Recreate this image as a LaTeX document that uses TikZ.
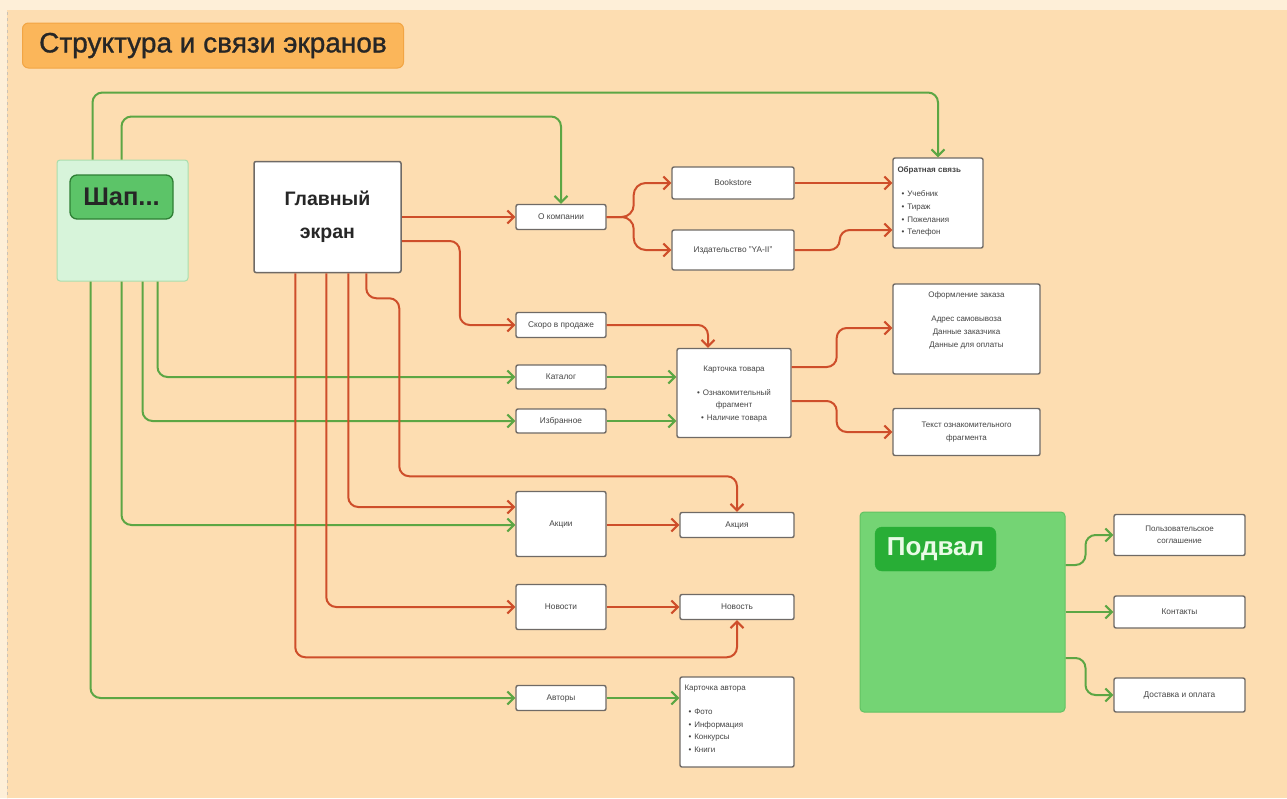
\documentclass[tikz,border=0pt]{standalone}
\usepackage{fontspec}
\setmainfont{Liberation Sans}
\newfontfamily\titlefont[FakeBold=1]{Liberation Sans}
\usetikzlibrary{arrows.meta}
\definecolor{bg}{HTML}{FDDDB1}
\definecolor{bglight}{HTML}{FEEFD8}
\definecolor{titlefill}{HTML}{FBB65A}
\definecolor{titledraw}{HTML}{F2A544}
\definecolor{shapfill}{HTML}{D7F4DA}
\definecolor{shapdraw}{HTML}{A9DEAD}
\definecolor{shapin}{HTML}{5CC468}
\definecolor{shapindraw}{HTML}{2F7F35}
\definecolor{footfill}{HTML}{74D474}
\definecolor{footdraw}{HTML}{62C263}
\definecolor{footin}{HTML}{28AE36}
\definecolor{foottext}{HTML}{E9FBE6}
\definecolor{boxdraw}{HTML}{6F6A66}
\definecolor{txt}{HTML}{444444}
\definecolor{redl}{HTML}{CE4E2A}
\definecolor{greenl}{HTML}{5CA644}
\tikzset{
  box/.style={draw=boxdraw, fill=white, line width=1.4pt, rounded corners=2pt,
    inner sep=2pt, font=\fontsize{8.3}{10}\selectfont, text=txt, align=center},
  txtin/.style={inner sep=0pt, font=\fontsize{8}{12.6}\selectfont, text=txt},
  rl/.style={draw=redl, line width=2pt, rounded corners=10pt,
    -{Straight Barb[length=6.5pt,width=13pt]}},
  gl/.style={draw=greenl, line width=2pt, rounded corners=10pt,
    -{Straight Barb[length=6.5pt,width=13pt]}}
}
\begin{document}
\begin{tikzpicture}[x=1pt,y=-1pt]
\useasboundingbox (0,0) rectangle (1287,798);
\fill[bglight] (0,0) rectangle (1287,798);
\fill[bg] (7,10) rectangle (1287,798);
\draw[draw=bglight!60!gray, dashed, line width=0.6pt] (7,12) -- (7,798);

% title
\node[draw=titledraw, fill=titlefill, line width=1pt, rounded corners=6pt,
  minimum width=381pt, minimum height=45pt, inner sep=0pt,
  font=\titlefont\fontsize{28}{30}\selectfont, text=black!85] (title) at (213,45.5)
  {Структура и связи экранов};

% header group
\node[draw=shapdraw, fill=shapfill, line width=1pt, rounded corners=3pt,
  minimum width=131pt, minimum height=121pt] (shap) at (122.5,220.5) {};
\node[draw=shapindraw, fill=shapin, line width=1.3pt, rounded corners=7pt,
  minimum width=103pt, minimum height=44pt, inner sep=0pt,
  font=\fontsize{25.5}{27}\bfseries, text=black!85] (shapin) at (121.5,197) {Шап...};

% main
\node[draw=boxdraw, fill=white, line width=1.5pt, rounded corners=2pt,
  minimum width=147pt, minimum height=111pt, align=center,
  font=\fontsize{19.5}{33}\bfseries, text=black!85] (main) at (327.5,217) {Главный\\экран};

% boxes
\node[box, minimum width=90pt, minimum height=25pt] (okomp) at (561,217) {О компании};
\node[box, minimum width=122pt, minimum height=32pt] (books) at (733,183) {Bookstore};
\node[box, minimum width=122pt, minimum height=40pt] (izd) at (733,250) {Издательство "YA-II"};
\node[box, minimum width=90pt, minimum height=90pt] (feedback) at (938,203) {};
\node[txtin, anchor=north west, align=left] (fbtext) at ([xshift=5pt,yshift=-9pt]feedback.north west)
  {\textbf{Обратная связь}\\[12pt]
   \hspace{4pt}•\hspace{3pt}Учебник\\
   \hspace{4pt}•\hspace{3pt}Тираж\\
   \hspace{4pt}•\hspace{3pt}Пожелания\\
   \hspace{4pt}•\hspace{3pt}Телефон};

\node[box, minimum width=90pt, minimum height=25pt] (soon) at (561,325) {Скоро в продаже};
\node[box, minimum width=90pt, minimum height=24pt] (catalog) at (561,377) {Каталог};
\node[box, minimum width=90pt, minimum height=24pt] (fav) at (561,421) {Избранное};
\node[box, minimum width=114pt, minimum height=89pt] (card) at (734,393) {};
\node[txtin, align=center] (cardtext) at (734,394)
  {Карточка товара\\[11pt]
   •\hspace{3pt}Ознакомительный\\
   фрагмент\\
   •\hspace{3pt}Наличие товара};
\node[box, minimum width=147pt, minimum height=90pt] (order) at (966.5,329) {};
\node[txtin, align=center, anchor=north] (ordertext) at ([yshift=-8pt]order.north)
  {Оформление заказа\\[12pt]
   Адрес самовывоза\\
   Данные заказчика\\
   Данные для оплаты};
\node[box, minimum width=147pt, minimum height=47pt, font=\fontsize{8}{12.5}\selectfont] (frag) at (966.5,432)
  {Текст ознакомительного\\фрагмента};

\node[box, minimum width=90pt, minimum height=65pt] (promos) at (561,524) {Акции};
\node[box, minimum width=114pt, minimum height=25pt] (promo) at (737,525) {Акция};
\node[box, minimum width=90pt, minimum height=45pt] (newsl) at (561,607) {Новости};
\node[box, minimum width=114pt, minimum height=25pt] (news) at (737,607) {Новость};
\node[box, minimum width=90pt, minimum height=25pt] (authors) at (561,698) {Авторы};
\node[box, minimum width=114pt, minimum height=90pt] (acard) at (737,722) {};
\node[txtin, anchor=north west, align=left] (acardtext) at ([xshift=5pt,yshift=-8pt]acard.north west)
  {Карточка автора\\[12pt]
   \hspace{4pt}•\hspace{3pt}Фото\\
   \hspace{4pt}•\hspace{3pt}Информация\\
   \hspace{4pt}•\hspace{3pt}Конкурсы\\
   \hspace{4pt}•\hspace{3pt}Книги};

% footer
\node[draw=footdraw, fill=footfill, line width=1pt, rounded corners=4pt,
  minimum width=205pt, minimum height=200pt] (footer) at (962.5,612) {};
\node[draw=footin, fill=footin, rounded corners=7pt, minimum width=121pt,
  minimum height=44pt, inner sep=0pt, font=\fontsize{26}{28}\bfseries,
  text=foottext] (footin) at (935.5,549) {Подвал};
\node[box, minimum width=131pt, minimum height=41pt, font=\fontsize{8}{12}\selectfont] (agree) at (1179.5,535) {Пользовательское\\соглашение};
\node[box, minimum width=131pt, minimum height=32pt] (contacts) at (1179.5,612) {Контакты};
\node[box, minimum width=131pt, minimum height=34pt] (delivery) at (1179.5,695) {Доставка и оплата};

% green connectors from header
\draw[gl] ([xshift=36pt]shap.north west) -- ++(0,-67) -| (feedback.north);
\draw[gl] ([xshift=65pt]shap.north west) -- ++(0,-43) -| (okomp.north);
\draw[gl] ([xshift=34pt]shap.south west) |- (authors.west);
\draw[gl] ([xshift=65pt]shap.south west) |- ([yshift=-1pt]promos.west);
\draw[gl] ([xshift=86pt]shap.south west) |- (fav.west);
\draw[gl] ([xshift=101pt]shap.south west) |- (catalog.west);

% red connectors from main
\draw[rl] ([xshift=42pt]main.south west) -- ++(0,384) -| (news.south);
\draw[rl] ([xshift=73pt]main.south west) |- (newsl.west);
\draw[rl] ([xshift=95pt]main.south west) |- ([yshift=17pt]promos.west);
\draw[rl] ([xshift=113pt]main.south west) -- ++(0,25) -- ++(33,0) -- ++(0,178) -| (promo.north);
\draw[rl] (main.east |- okomp.west) -- (okomp.west);
\draw[rl] ([yshift=-24pt]main.east) -- ++(58,0) |- (soon.west);

% about
\draw[rl, rounded corners=12pt] (okomp.east) -- ++(27,0) |- (books.west);
\draw[rl, rounded corners=12pt] (okomp.east) -- ++(27,0) |- (izd.west);
\draw[rl] (books.east) -- (feedback.west |- books.east);
\draw[rl] (izd.east) -- ++(45,0) |- ([yshift=-27pt]feedback.west);

% product card
\draw[rl] (soon.east) -| ([xshift=-26pt]card.north);
\draw[gl] (catalog.east) -- (card.west |- catalog.east);
\draw[gl] (fav.east) -- (card.west |- fav.east);
\draw[rl] ([yshift=26pt]card.east) -- ++(45,0) |- ([yshift=1pt]order.west);
\draw[rl] ([yshift=-8pt]card.east) -- ++(45,0) |- (frag.west);

% rows
\draw[rl] (promos.east |- promo.west) -- (promo.west);
\draw[rl] (newsl.east) -- (news.west);
\draw[gl] (authors.east) -- (acard.west |- authors.east);

% footer connectors
\draw[gl] ([yshift=47pt]footer.east) -- ++(20,0) |- (agree.west);
\draw[gl] (footer.east |- contacts.west) -- (contacts.west);
\draw[gl] ([yshift=-46pt]footer.east) -- ++(20,0) |- (delivery.west);
\end{tikzpicture}
\end{document}
